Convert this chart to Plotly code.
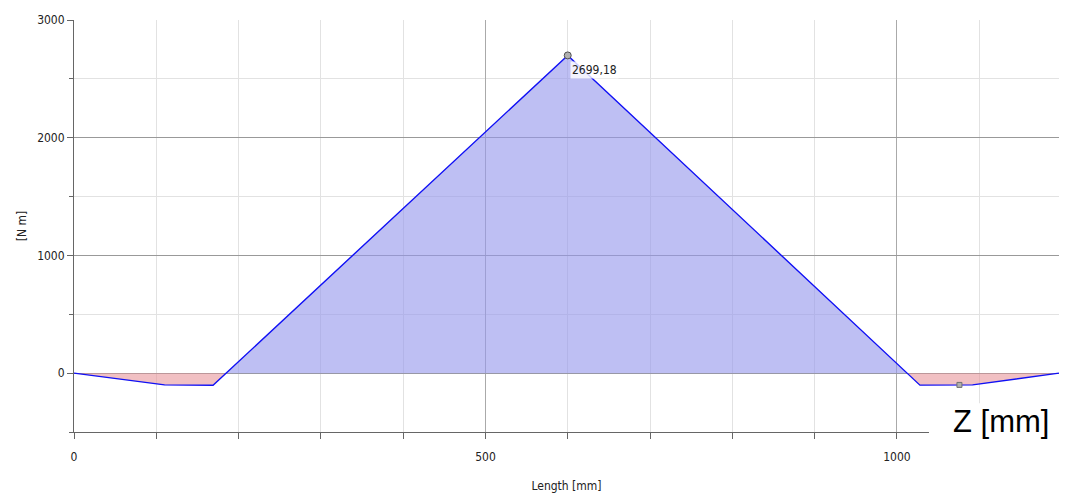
import plotly.graph_objects as go

# Bending moment along the shaft
length_mm = [0, 110, 169, 600, 1028, 1092, 1197]
moment_nm = [0, -100, -103, 2699.18, -102, -100, 0]

peak_x, peak_val = 600, 2699.18
min_marker_x, min_marker_val = 1076, -100

x_ticks = [0, 500, 1000]
y_ticks = [0, 1000, 2000, 3000]


def split_sign(xs, ys):
    """Insert zero crossings and return positive / negative parts."""
    px, py = [], []
    for i in range(len(xs)):
        if i > 0 and (ys[i - 1] < 0 < ys[i] or ys[i - 1] > 0 > ys[i]):
            t = ys[i - 1] / (ys[i - 1] - ys[i])
            px.append(xs[i - 1] + t * (xs[i] - xs[i - 1]))
            py.append(0.0)
        px.append(xs[i])
        py.append(ys[i])
    pos = [max(v, 0) for v in py]
    neg = [min(v, 0) for v in py]
    return px, pos, neg


fx, fpos, fneg = split_sign(length_mm, moment_nm)

fig = go.Figure()
fig.add_trace(go.Scatter(x=fx, y=fpos, fill="tozeroy", mode="none",
                         fillcolor="rgba(150,152,235,0.62)", hoverinfo="skip"))
fig.add_trace(go.Scatter(x=fx, y=fneg, fill="tozeroy", mode="none",
                         fillcolor="rgba(232,150,155,0.6)", hoverinfo="skip"))
fig.add_trace(go.Scatter(x=length_mm, y=moment_nm, mode="lines",
                         line=dict(color="#1010f5", width=1.4)))
fig.add_trace(go.Scatter(x=[peak_x], y=[peak_val], mode="markers",
                         marker=dict(size=7, color="#b0b0b0",
                                     line=dict(color="#505050", width=1))))
fig.add_trace(go.Scatter(x=[min_marker_x], y=[min_marker_val], mode="markers",
                         marker=dict(size=5, symbol="square", color="#b0b0b0",
                                     line=dict(color="#707070", width=1))))

fig.add_annotation(x=peak_x, y=peak_val, text="2699,18", showarrow=False,
                   xanchor="left", yanchor="top", xshift=2, yshift=-6,
                   bgcolor="rgba(255,255,255,0.8)", borderpad=1,
                   font=dict(family="DejaVu Sans Condensed, Liberation Sans Narrow, sans-serif",
                             size=12, color="#222"))

# White label box in the lower right corner
fig.add_shape(type="rect", xref="paper", yref="paper", x0=0.868, x1=1.02,
              y0=-0.16, y1=0.07, fillcolor="white", line=dict(width=0),
              layer="above")
fig.add_annotation(xref="paper", yref="paper", x=0.941, y=0.025,
                   text="Z [mm]", showarrow=False, xanchor="center",
                   yanchor="middle",
                   font=dict(family="Liberation Sans, Arial, sans-serif",
                             size=31, color="black"))

tick_font = dict(family="DejaVu Sans Condensed, Liberation Sans Narrow, sans-serif",
                 size=12, color="#222")

fig.update_layout(
    width=1066, height=497,
    margin=dict(l=74, r=7, t=20, b=65),
    paper_bgcolor="white", plot_bgcolor="white",
    showlegend=False,
    xaxis=dict(range=[0, 1197], tickvals=x_ticks, ticks="outside", ticklen=6,
               tickcolor="#666", showline=True, linecolor="#666",
               showgrid=True, gridcolor="#aaaaaa", gridwidth=1,
               zeroline=False, tickfont=tick_font, ticklabelstandoff=8,
               minor=dict(dtick=100, tick0=0, ticks="outside", ticklen=6,
                          tickcolor="#666", showgrid=True,
                          gridcolor="#e2e2e2", gridwidth=1),
               title=dict(text="Length [mm]", font=tick_font, standoff=18)),
    yaxis=dict(range=[-500, 3000], tickvals=y_ticks, ticks="outside", ticklen=6,
               tickcolor="#666", showline=True, linecolor="#666",
               showgrid=True, gridcolor="#999999", gridwidth=1,
               zeroline=False, tickfont=tick_font,
               minor=dict(dtick=500, tick0=0, ticks="outside", ticklen=4,
                          tickcolor="#666", showgrid=True,
                          gridcolor="#e2e2e2", gridwidth=1),
               title=dict(text="[N m]", font=tick_font, standoff=7)),
)

fig.write_html("out.html")
